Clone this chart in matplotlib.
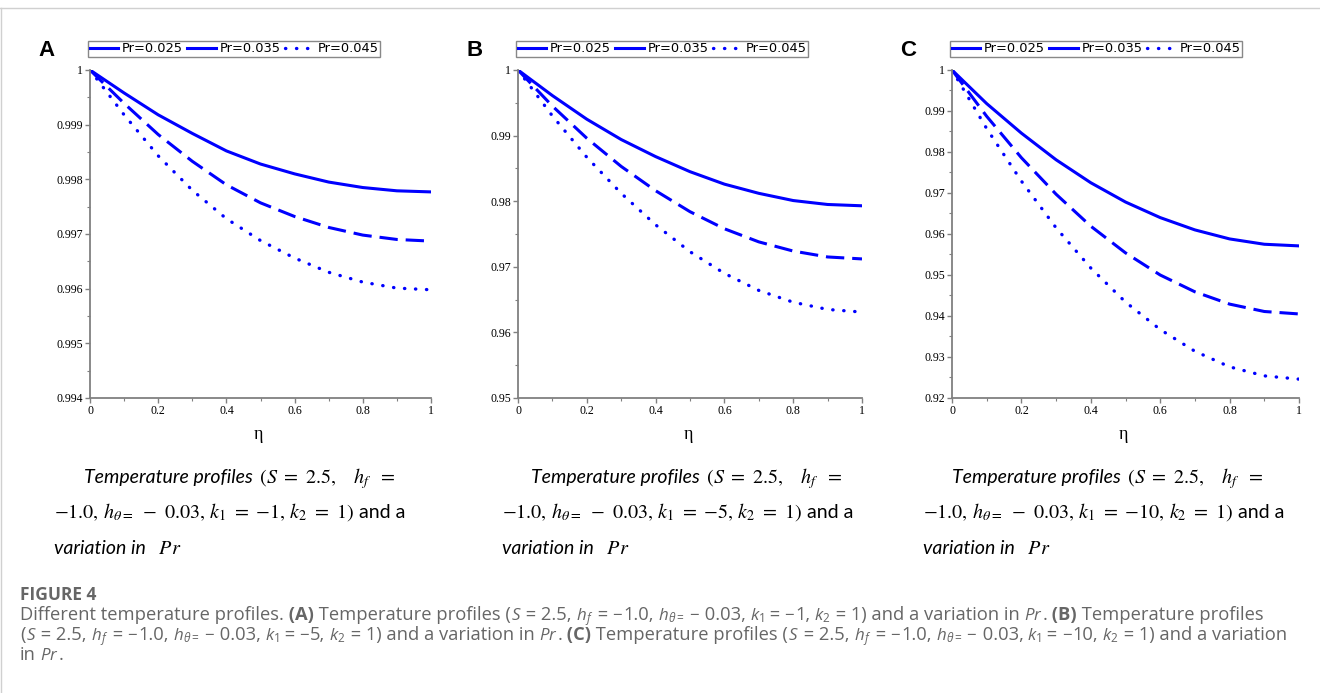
import re
import matplotlib
matplotlib.use('Agg')
import matplotlib.pyplot as plt
from matplotlib.lines import Line2D
from matplotlib.ticker import MultipleLocator, FuncFormatter

# ---- data ----
eta = [0.0, 0.1, 0.2, 0.3, 0.4, 0.5, 0.6, 0.7, 0.8, 0.9, 1.0]

# panel A  (k1 = -1)
a_pr025 = [1.0, 0.99958, 0.99918, 0.99884, 0.99852, 0.99828, 0.99810, 0.99795, 0.99785, 0.99779, 0.99777]
a_pr035 = [1.0, 0.99939, 0.99882, 0.99833, 0.99790, 0.99757, 0.99732, 0.99712, 0.99698, 0.99690, 0.99687]
a_pr045 = [1.0, 0.99918, 0.99843, 0.99780, 0.99728, 0.99688, 0.99656, 0.99630, 0.99612, 0.99601, 0.99598]

# panel B  (k1 = -5)
b_pr025 = [1.0, 0.9961, 0.9925, 0.9894, 0.9868, 0.9845, 0.9826, 0.9812, 0.9801, 0.9795, 0.9793]
b_pr035 = [1.0, 0.9945, 0.9896, 0.9853, 0.9816, 0.9784, 0.9758, 0.9738, 0.9724, 0.9715, 0.9712]
b_pr045 = [1.0, 0.9930, 0.9867, 0.9812, 0.9764, 0.9723, 0.9690, 0.9664, 0.9646, 0.9635, 0.9631]

# panel C  (k1 = -10)
c_pr025 = [1.0, 0.9918, 0.9846, 0.9781, 0.9725, 0.9678, 0.9640, 0.9610, 0.9588, 0.9575, 0.9571]
c_pr035 = [1.0, 0.9887, 0.9786, 0.9697, 0.9619, 0.9554, 0.9500, 0.9459, 0.9429, 0.9411, 0.9405]
c_pr045 = [1.0, 0.9857, 0.9729, 0.9615, 0.9517, 0.9434, 0.9367, 0.9314, 0.9276, 0.9254, 0.9246]

legend_labels = ['Pr=0.025', 'Pr=0.035', 'Pr=0.045']
panel_letters = ['A', 'B', 'C']
k1_values = ['1', '5', '10']
ylims = [(0.994, 1.0), (0.95, 1.0), (0.92, 1.0)]
ysteps = [0.001, 0.01, 0.01]

W, H = 1320, 693
fig = plt.figure(figsize=(W / 100, H / 100), dpi=100)
fig.patch.set_facecolor('white')

plt.rcParams['mathtext.fontset'] = 'custom'
plt.rcParams['mathtext.rm'] = 'Open Sans'
plt.rcParams['mathtext.it'] = 'Open Sans:italic'
plt.rcParams['mathtext.bf'] = 'Open Sans:bold'

# axes boxes in pixels: left, right
boxes = [(90, 431), (518, 862), (952, 1299)]
top_px, bot_px = 70, 398
series = [(a_pr025, a_pr035, a_pr045), (b_pr025, b_pr035, b_pr045), (c_pr025, c_pr035, c_pr045)]

blue = '#0000ff'
for i, (l, r) in enumerate(boxes):
    ax = fig.add_axes([l / W, 1 - bot_px / H, (r - l) / W, (bot_px - top_px) / H])
    s1, s2, s3 = series[i]
    ax.plot(eta, s1, color=blue, lw=2.2, ls='-')
    ax.plot(eta, s2, color=blue, lw=2.2, ls=(0, (6, 2.6)))
    ax.plot(eta, s3, color=blue, lw=2.4, ls=(0, (0.1, 3.2)), dash_capstyle='round')
    ax.set_xlim(0, 1)
    ax.set_ylim(*ylims[i])
    for sp in ['top', 'right']:
        ax.spines[sp].set_visible(False)
    for sp in ['left', 'bottom']:
        ax.spines[sp].set_color('#808080')
        ax.spines[sp].set_linewidth(1.3)
    ax.xaxis.set_major_locator(MultipleLocator(0.2))
    ax.xaxis.set_minor_locator(MultipleLocator(0.1))
    ax.yaxis.set_major_locator(MultipleLocator(ysteps[i]))
    ax.yaxis.set_minor_locator(MultipleLocator(ysteps[i] / 2))
    fmt = FuncFormatter(lambda v, p: ('%.4f' % v).rstrip('0').rstrip('.'))
    ax.xaxis.set_major_formatter(fmt)
    ax.yaxis.set_major_formatter(fmt)
    ax.tick_params(which='major', direction='out', length=3.5, width=1, color='#808080',
                   labelsize=8.6, pad=1.5)
    ax.tick_params(which='minor', direction='out', length=2, width=0.8, color='#808080')
    for lab in ax.get_xticklabels() + ax.get_yticklabels():
        lab.set_family('Liberation Serif')
    handles = [Line2D([], [], color=blue, lw=2.2, ls='-'),
               Line2D([], [], color=blue, lw=2.2, ls='-'),
               Line2D([], [], color=blue, lw=2.4, ls=(0, (0.1, 3.2)), dash_capstyle='round')]
    leg = ax.legend(handles, legend_labels, loc='center left',
                    bbox_to_anchor=(-2 / (r - l), (bot_px - 49) / (bot_px - top_px)),
                    ncol=3, fontsize=9.4, frameon=True, fancybox=False, framealpha=1,
                    edgecolor='#888888', handlelength=2.2, handletextpad=0.3,
                    columnspacing=0.3, borderpad=0.12, borderaxespad=0)
    leg.get_frame().set_linewidth(1.0)

    # eta label and panel letter
    fig.text(((l + r) / 2 - 2) / W, 1 - 435 / H, 'η', fontsize=13, family='Liberation Serif',
             ha='center', va='center')
    fig.text((l - 52) / W, 1 - 51 / H, panel_letters[i], fontsize=16, fontweight='bold',
             family='Liberation Sans', ha='left', va='center')

fig.canvas.draw()
renderer = fig.canvas.get_renderer()


def put_line(x, y, pieces):
    for txt, kw in pieces:
        t = fig.text(x / W, 1 - y / H, txt, ha='left', va='baseline', **kw)
        x += t.get_window_extent(renderer).width


cap_it = dict(family='Lato', style='italic', fontsize=14, color='black')
cap_rm = dict(family='Lato', fontsize=14, color='black')
cap_mt = dict(fontsize=14.5, color='black', math_fontfamily='stix')
cap_starts = [(84, 54), (531, 502), (952, 923)]
for i in range(3):
    x1, x2 = cap_starts[i]
    put_line(x1, 483, [('Temperature profiles', cap_it),
                       (r' $(S\ =\ 2.5,\ \ \ h_f\ \ =$', cap_mt)])
    put_line(x2, 518, [(r'$-1.0,\,h_{\theta=}\ -\ 0.03,\,k_1\ =\ {-}' + k1_values[i] +
                        r',\,k_2\ =\ 1)$', cap_mt), (' and a', cap_rm)])
    put_line(x2, 554, [('variation in', cap_it), (r'  $Pr$', cap_mt)])

# figure caption
grey = '#666666'
fc = dict(family='Open Sans', fontsize=13.2, color=grey)
fc_b = dict(fc, fontweight='bold')
fc_m = dict(fc, fontsize=12.2, math_fontfamily='custom')
fig.text(20 / W, 1 - 600 / H, 'FIGURE 4', family='Open Sans', fontsize=12.5,
         fontweight='bold', color=grey, ha='left', va='baseline')


def rich(s):
    # split text into plain / $math$ / **bold** pieces, spaces carried to the next piece
    parts = [p for p in re.split(r'(\$[^$]*\$|\*\*[^*]*\*\*)', s) if p]
    out, carry = [], ''
    for p in parts:
        if p.startswith('**'):
            kw, p = fc_b, p[2:-2]
        elif p.startswith('$'):
            kw = fc_m
        else:
            kw = fc
        p = carry + p
        body = p.rstrip(' ')
        carry = p[len(body):]
        if body:
            out.append((body, kw))
    return out


def params(k1):
    return (r'($S$ = 2.5, $h_f$ = $-$1.0, $h_{\theta=}$ $-$ 0.03, $k_1$ = $-$' + k1 +
            r', $k_2$ = 1) and a variation')


put_line(20, 620, rich('Different temperature profiles. **(A)** Temperature profiles ' + params('1') +
                       ' in $Pr$. **(B)** Temperature profiles'))
put_line(20, 640, rich(params('5') + ' in $Pr$. **(C)** Temperature profiles ' + params('10')))
put_line(20, 660, rich('in $Pr$.'))

# page border lines
fig.add_artist(Line2D([0, 1], [1 - 8 / H, 1 - 8 / H], transform=fig.transFigure, color='#d0d0d0', lw=1))
fig.add_artist(Line2D([1 / W, 1 / W], [0, 1 - 8 / H], transform=fig.transFigure, color='#d0d0d0', lw=1))

fig.savefig('out.png', dpi=100)
